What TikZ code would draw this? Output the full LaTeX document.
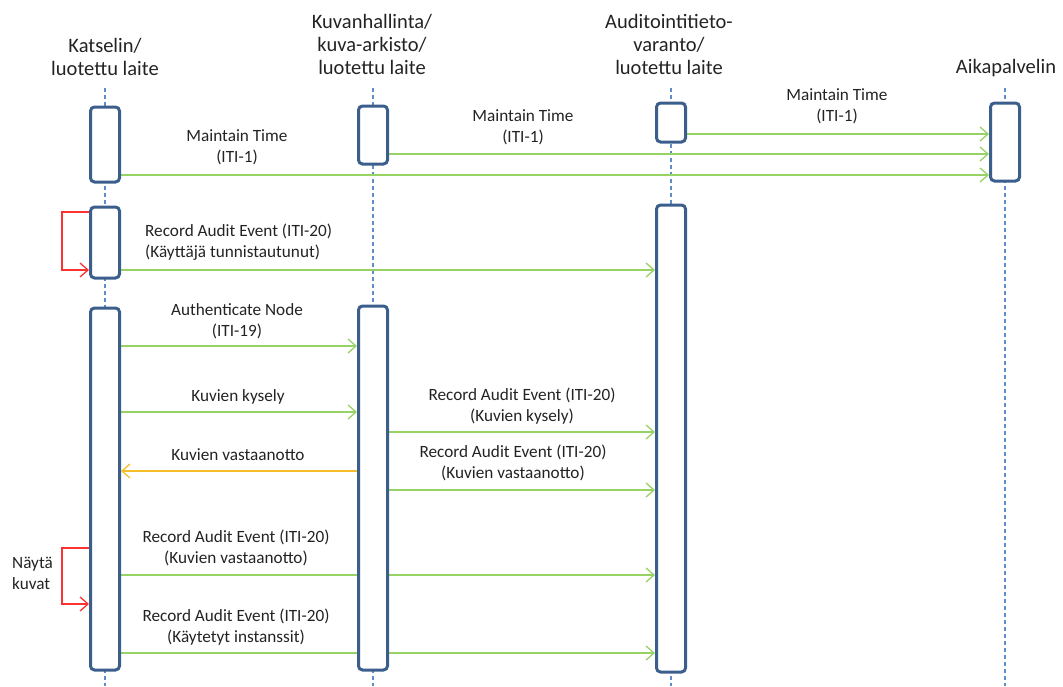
\documentclass[tikz,border=0pt]{standalone}
\usepackage{fontspec}
\setmainfont{Carlito}
\usetikzlibrary{arrows.meta}
\pgfdeclarelayer{background}
\pgfsetlayers{background,main}
\definecolor{boxblue}{RGB}{59,94,140}
\definecolor{lifeblue}{RGB}{95,140,205}
\definecolor{msggreen}{RGB}{150,210,100}
\definecolor{replyorange}{RGB}{245,190,40}
\definecolor{loopred}{RGB}{250,50,50}
\definecolor{txt}{RGB}{35,35,35}
\tikzset{
  x=1pt, y=-1pt,
  header/.style={inner sep=0pt, align=center, text=txt, font=\fontsize{20.5}{23}\selectfont},
  lbl/.style={inner sep=0pt, align=center, text=txt, font=\fontsize{17.2}{21}\selectfont},
  actbox/.style={draw=boxblue, line width=3pt, rounded corners=4pt, fill=white,
                 minimum width=29pt, inner sep=0pt},
  lifeline/.style={draw=lifeblue, line width=1.2pt, dash pattern=on 4pt off 3pt},
  tip/.style={-{Straight Barb[length=8pt,width=14pt]}},
  msg/.style={tip, draw=msggreen, line width=1.3pt},
  reply/.style={tip, draw=replyorange, line width=1.3pt},
  selfcall/.style={tip, draw=loopred, line width=1.3pt},
}
\begin{document}
\begin{tikzpicture}
\useasboundingbox (0,0) rectangle (1063,686);

% participants
\node[header] (hk) at (105,56.5) {Katselin/\\luotettu laite};
\node[header] (hv) at (372,44) {Kuvanhallinta/\\kuva-arkisto/\\luotettu laite};
\node[header] (ha) at (669,44) {Auditointitieto-\\varanto/\\luotettu laite};
\node[header] (ht) at (1006,68) {Aikapalvelin};

% lifeline ends
\coordinate (ek) at (105,686);
\coordinate (ev) at (373,686);
\coordinate (ea) at (671,686);
\coordinate (et) at (1005,686);

% activation boxes
\node[actbox, minimum height=75pt]  (k1) at (105,144.5) {};
\node[actbox, minimum height=71pt]  (k2) at (105,242.5) {};
\node[actbox, minimum height=362pt] (k3) at (105,489) {};
\node[actbox, minimum height=58pt]  (v1) at (373,135) {};
\node[actbox, minimum height=364pt] (v2) at (373,488) {};
\node[actbox, minimum height=39pt]  (a1) at (671,122.5) {};
\node[actbox, minimum height=467pt] (a2) at (671,438.5) {};
\node[actbox, minimum height=78pt]  (t1) at (1005,142) {};

\begin{pgfonlayer}{background}
  % lifelines
  \draw[lifeline] (105,88) -- (ek);
  \draw[lifeline] (373,88) -- (ev);
  \draw[lifeline] (671,88) -- (ea);
  \draw[lifeline] (1005,88) -- (et);

  % time synchronisation
  \draw[msg] (a1.east |- 0,134) -- (t1.west |- 0,134);
  \draw[msg] (v1.east |- 0,154) -- (t1.west |- 0,154);
  \draw[msg] (k1.east |- 0,175) -- (t1.west |- 0,175);

  % login
  \draw[selfcall] (k2.west |- 0,212) -- (62,212) |- (k2.west |- 0,270);
  \draw[msg] (k2.east |- 0,270) -- (a2.west |- 0,270);

  % image retrieval
  \draw[msg] (k3.east |- 0,346) -- (v2.west |- 0,346);
  \draw[msg] (k3.east |- 0,412) -- (v2.west |- 0,412);
  \draw[msg] (v2.east |- 0,432) -- (a2.west |- 0,432);
  \draw[reply] (v2.west |- 0,471) -- (k3.east |- 0,471);
  \draw[msg] (v2.east |- 0,490) -- (a2.west |- 0,490);

  % display and audit
  \draw[msg] (k3.east |- 0,575) -- (a2.west |- 0,575);
  \draw[selfcall] (k3.west |- 0,548) -- (62,548) |- (k3.west |- 0,604);
  \draw[msg] (k3.east |- 0,653) -- (a2.west |- 0,653);
\end{pgfonlayer}

% message labels
\node[lbl] (l1) at (837,106) {Maintain Time\\(ITI-1)};
\node[lbl] (l2) at (523,127.5) {Maintain Time\\(ITI-1)};
\node[lbl] (l3) at (237,147) {Maintain Time\\(ITI-1)};
\node[lbl, align=left, anchor=west] (l4) at (145,242.5) {Record Audit Event (ITI-20)\\(Käyttäjä tunnistautunut)};
\node[lbl] (l5) at (237,321) {Authenticate Node\\(ITI-19)};
\node[lbl] (l6) at (238,397) {Kuvien kysely};
\node[lbl] (l7) at (522,406) {Record Audit Event (ITI-20)\\(Kuvien kysely)};
\node[lbl] (l8) at (238,455) {Kuvien vastaanotto};
\node[lbl] (l9) at (513,462.5) {Record Audit Event (ITI-20)\\(Kuvien vastaanotto)};
\node[lbl] (l10) at (236,548) {Record Audit Event (ITI-20)\\(Kuvien vastaanotto)};
\node[lbl, align=left, anchor=west] (l11) at (12,573) {Näytä\\kuvat};
\node[lbl] (l12) at (236,627) {Record Audit Event (ITI-20)\\(Käytetyt instanssit)};
\end{tikzpicture}
\end{document}
